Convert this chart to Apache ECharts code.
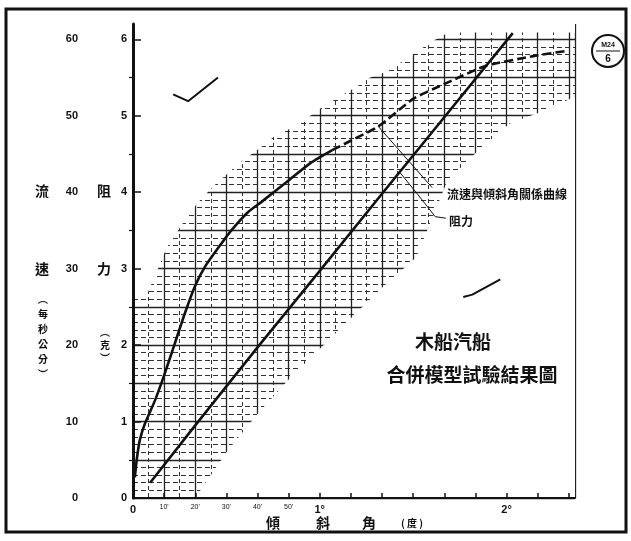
<!DOCTYPE html>
<html><head><meta charset="utf-8">
<script src="https://cdn.jsdelivr.net/npm/echarts@6/dist/echarts.min.js"></script>
<style>html,body{margin:0;padding:0;background:#fff}#c{width:631px;height:541px}</style>
</head><body><div id="c"></div>
<script>
// x: tilt angle in minutes of arc (60 = 1°), left y: resistance (g), outer y: speed (cm/s)
const resistanceLine = [[5.5,0.2],[20,0.95],[40,1.97],[60,2.97],[80,3.98],[100,4.98],[122,6.08]];
const speedSolid = [[0.6,2.7],[1.2,5.0],[2.2,7.6],[3.9,9.8],[7.1,12.8],[10.3,16.4],[13.5,20.3],[16.7,24.2],[19.9,27.7],[23.2,30.3],[28.6,33.4],[31.8,35.1],[37,37.4],[41.5,38.8],[50.5,41.7],[57,43.8],[64,45.5]];
const speedDashed = [[64,45.5],[69.8,46.7],[78.8,48.6],[90,52.2],[96.5,53.5],[101.9,54.5],[113.2,56.5],[128.6,57.8],[139.5,58.5]];
const gridUpperEdge = [[0,2.6],[4.8,2.69],[8,3.0],[10.9,3.28],[16.1,3.6],[20.9,3.87],[26.4,4.1],[34.4,4.39],[41.5,4.6],[46.3,4.76],[51.1,4.84],[56.3,4.98],[61.1,5.12],[65.9,5.24],[71.4,5.37],[76.2,5.5],[81.7,5.58],[86.5,5.71],[91.6,5.85],[96.5,5.98],[101.3,6.09],[142,6.09]];
const gridLowerEdge = [[20,0],[30,0.6],[40,1.1],[50,1.55],[60,1.95],[70,2.35],[80,2.75],[91,3.15],[96,3.65],[101,4.15],[111,4.55],[121,4.9],[131,5.05],[142,5.25]];
const leaderSpeed = [[78.8,4.86],[96.1,4.06]];
const leaderResist = [[85.9,4.25],[91.5,3.97],[97.1,3.68],[100.5,3.66]];
const penMark1 = [[12.9,5.28],[17.7,5.19],[27.3,5.5]];
const penMark2 = [[106.1,2.63],[109,2.66],[118,2.86]];

const resistTicks = [0,1,2,3,4,5,6];
const resistHalfTicks = [0.5,1.5,2.5,3.5,4.5,5.5];
const gridRows = [0,0.5,1,1.5,2,2.5,3,3.5,4,4.5,5,5.5,6];
const speedTicks = [0,10,20,30,40,50,60];
const xTicks = [10,20,30,40,50,60,70,80,90,100,110,120,130,140];
const xLabelValues = [0,10,20,30,40,50,60,120];
const xLabelText = {0:'0',10:"10'",20:"20'",30:"30'",40:"40'",50:"50'",60:'1°',120:'2°'};

const CJK = '"Noto Sans CJK TC","Noto Sans CJK SC",sans-serif';
const INK = '#111';

const chart = echarts.init(document.getElementById('c'));

function txt(x, y, text, size, opts) {
  opts = opts || {};
  return {type:'text', x:x, y:y, z:20, silent:true, style:{
    text:text, fill:INK, font:(opts.weight||'bold')+' '+size+'px '+(opts.family||CJK),
    textAlign:opts.align||'center', textVerticalAlign:opts.valign||'middle',
    align:opts.align||'center', verticalAlign:opts.valign||'middle',
    lineHeight:opts.lineHeight||size
  }};
}

const option = {
  animation:false,
  backgroundColor:'#fff',
  grid:{left:133, right:56, top:24, bottom:43},
  xAxis:[
    {type:'value', min:0, max:142, interval:10, z:10,
     axisLine:{show:true, lineStyle:{color:INK, width:2}},
     axisTick:{show:true, inside:true, length:5, customValues:xTicks, lineStyle:{color:INK, width:1.5}},
     axisLabel:{customValues:xLabelValues, margin:6, color:INK,
       formatter:function(v){ const t = xLabelText[v]; if (t === undefined) return ''; return (v===0||v===60||v===120) ? '{b|'+t+'}' : '{s|'+t+'}'; },
       rich:{b:{fontSize:11, fontWeight:'bold', fontFamily:'Liberation Sans', color:INK}, s:{fontSize:7, fontFamily:'Liberation Sans', color:INK}}},
     splitLine:{show:false}},
    {type:'value', min:0, max:142, interval:10, z:0,
     axisLine:{show:false}, axisTick:{show:false}, axisLabel:{show:false},
     minorTick:{show:false, splitNumber:2},
     splitLine:{show:true, lineStyle:{color:'#222', width:1.3}},
     minorSplitLine:{show:true, lineStyle:{color:'#333', width:1, type:[4,3]}}}
  ],
  yAxis:[
    {type:'value', min:0, max:6.2, interval:1, z:10,
     axisLine:{show:true, lineStyle:{color:INK, width:3}},
     axisTick:{show:true, inside:true, length:8, customValues:resistTicks, lineStyle:{color:INK, width:1.5}},
     axisLabel:{customValues:resistTicks, margin:6, color:INK, fontSize:11, fontWeight:'bold', fontFamily:'Liberation Sans'},
     splitLine:{show:false}},
    {type:'value', min:0, max:6.2, interval:0.5, z:0,
     axisLine:{show:false},
     axisTick:{show:false, customValues:gridRows},
     axisLabel:{show:false},
     minorTick:{show:false, splitNumber:5},
     splitLine:{show:true, lineStyle:{color:'#222', width:1.3}},
     minorSplitLine:{show:true, lineStyle:{color:'#333', width:1, type:[5,3]}}},
    {type:'value', min:0, max:62, interval:10, offset:47, position:'left', z:10,
     axisLine:{show:false}, axisTick:{show:false},
     axisLabel:{customValues:speedTicks, margin:8, color:INK, fontSize:11, fontWeight:'bold', fontFamily:'Liberation Sans'},
     splitLine:{show:false}},
    {type:'value', min:0, max:6.2, interval:0.5, position:'left', z:10,
     axisLine:{show:false},
     axisTick:{show:true, inside:false, length:4, customValues:resistHalfTicks, lineStyle:{color:INK, width:1.2}},
     axisLabel:{show:false}, splitLine:{show:false}}
  ],
  series:[
    {name:'maskUpper', type:'line', xAxisIndex:0, yAxisIndex:0, data:gridUpperEdge, symbol:'none', silent:true, z:1,
     lineStyle:{width:0, opacity:0}, areaStyle:{origin:'end', color:'#fff', opacity:1}},
    {name:'maskLower', type:'line', xAxisIndex:0, yAxisIndex:0, data:gridLowerEdge, symbol:'none', silent:true, z:1,
     lineStyle:{width:0, opacity:0}, areaStyle:{origin:'start', color:'#fff', opacity:1}},
    {name:'阻力', type:'line', xAxisIndex:0, yAxisIndex:0, data:resistanceLine, symbol:'none', z:5,
     lineStyle:{color:INK, width:2.6}},
    {name:'流速', type:'line', xAxisIndex:0, yAxisIndex:2, data:speedSolid, symbol:'none', smooth:0.2, z:5,
     lineStyle:{color:INK, width:2.6}},
    {name:'流速(虛)', type:'line', xAxisIndex:0, yAxisIndex:2, data:speedDashed, symbol:'none', smooth:0.2, z:5,
     lineStyle:{color:INK, width:2.6, type:[9,4]}},
    {name:'leader1', type:'line', xAxisIndex:0, yAxisIndex:0, data:leaderSpeed, symbol:'none', z:6, silent:true,
     lineStyle:{color:INK, width:1}},
    {name:'leader2', type:'line', xAxisIndex:0, yAxisIndex:0, data:leaderResist, symbol:'none', z:6, silent:true,
     lineStyle:{color:INK, width:1}},
    {name:'mark1', type:'line', xAxisIndex:0, yAxisIndex:0, data:penMark1, symbol:'none', z:6, silent:true,
     lineStyle:{color:INK, width:2}},
    {name:'mark2', type:'line', xAxisIndex:0, yAxisIndex:0, data:penMark2, symbol:'none', z:6, silent:true,
     lineStyle:{color:INK, width:2}}
  ],
  graphic:[
    {type:'rect', z:20, silent:true, shape:{x:6, y:9, width:620, height:523}, style:{fill:'none', stroke:INK, lineWidth:3}},
    txt(42, 191, '流', 14),
    txt(42, 269, '速', 14),
    txt(43, 337, '︵\n每\n秒\n公\n分\n︶', 10, {lineHeight:15}),
    txt(104, 191, '阻', 14),
    txt(104, 269, '力', 14),
    txt(105, 345, '︵\n克\n︶', 10, {lineHeight:13}),
    txt(273, 523, '傾', 14),
    txt(323, 523, '斜', 14),
    txt(369, 523, '角', 14),
    txt(412, 523, '( 度 )', 10),
    txt(453, 342, '木船汽船', 19),
    txt(472, 375, '合併模型試驗結果圖', 19),
    txt(447, 194, '流速與傾斜角關係曲線', 12, {align:'left'}),
    txt(449, 221, '阻力', 12, {align:'left'}),
    {type:'circle', z:20, silent:true, shape:{cx:608, cy:51, r:16}, style:{fill:'none', stroke:INK, lineWidth:2}},
    {type:'line', z:20, silent:true, shape:{x1:596, y1:51, x2:620, y2:51}, style:{stroke:INK, lineWidth:1}},
    txt(608, 45, 'M24', 7, {family:'Liberation Sans'}),
    txt(608, 59, '6', 10, {family:'Liberation Sans'})
  ]
};
chart.setOption(option);
</script></body></html>
